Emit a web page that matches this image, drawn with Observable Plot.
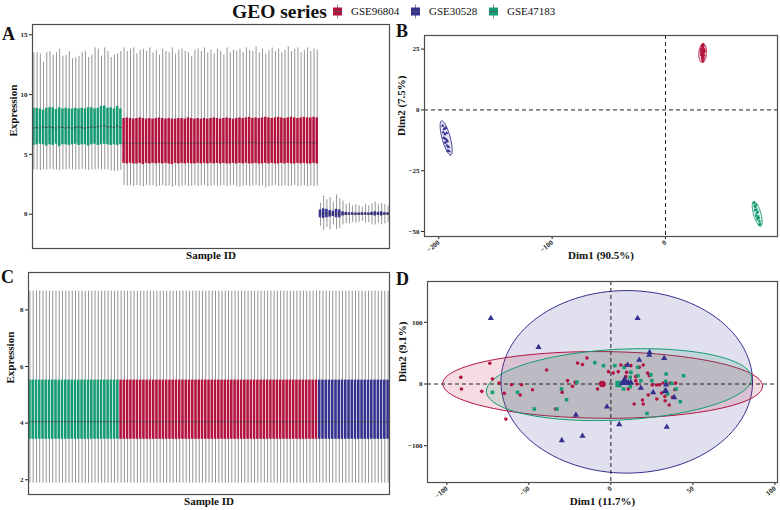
<!DOCTYPE html>
<html>
<head>
<meta charset="utf-8">
<script src="https://cdn.jsdelivr.net/npm/d3@7"></script>
<script src="https://cdn.jsdelivr.net/npm/@observablehq/plot@0.6"></script>
<style>
  body { margin: 0; background: #fff; }
  #root { position: relative; width: 780px; height: 510px; overflow: hidden; background: #fff;
          font-family: "Liberation Serif", "DejaVu Serif", serif; color: #111; }
  .panel { position: absolute; z-index: 1; }
  .letter { position: absolute; font-weight: bold; font-size: 18px; line-height: 1; z-index: 5; }
  .title { position: absolute; left: 232px; top: 2px; font-size: 19.5px; font-weight: bold; line-height: 20px; z-index: 5; }
  .leg { position: absolute; top: 4px; font-size: 11px; line-height: 1; display: flex; align-items: center; gap: 8px; z-index: 5; }
  .leg svg { display: block; }
</style>
</head>
<body>
<div id="root">
  <div class="panel" id="pA" style="left:0px;top:18px"></div>
  <div class="panel" id="pB" style="left:392px;top:18px"></div>
  <div class="panel" id="pC" style="left:0px;top:265px"></div>
  <div class="panel" id="pD" style="left:392px;top:268px"></div>
  <div class="title">GEO series</div>
  <div id="legend"></div>
  <div class="letter" style="left:2px;top:25px">A</div>
  <div class="letter" style="left:396px;top:22px">B</div>
  <div class="letter" style="left:1px;top:268px">C</div>
  <div class="letter" style="left:396px;top:270px">D</div>
</div>
<script>
// ---------------- series / colours ----------------
const seriesNames = ["GSE96804", "GSE30528", "GSE47183"];
const seriesColors = ["#B5133F", "#35318F", "#169C74"];

// ---------------- Panel A: per-sample box statistics ----------------
const greenUpper = [13.5,13.5,13.4,12.7,13.5,13.6,13.3,13.5,13.8,13.2,13.3,13.6,13.0,13.1,13.2,13.5,13.6,13.1,13.3,13.9,13.8,13.2,13.9,13.6,13.1,13.3,13.4,13.6];
const greenQ3    = [8.85,8.85,8.8,8.7,8.85,8.9,8.9,8.75,8.9,8.8,8.85,8.8,8.8,8.85,8.8,8.85,8.8,8.9,8.9,8.8,8.85,9.0,9.05,8.85,8.9,8.8,9.0,8.8];
const greenMed   = [7.2,7.25,7.2,7.3,7.25,7.3,7.25,7.2,7.3,7.25,7.2,7.25,7.2,7.25,7.3,7.25,7.2,7.25,7.3,7.25,7.3,7.35,7.4,7.3,7.3,7.25,7.35,7.25];
const greenQ1    = [5.75,5.8,5.85,5.8,5.7,5.8,5.75,5.85,5.65,5.8,5.8,5.75,5.8,5.85,5.75,5.8,5.8,5.7,5.8,5.85,5.75,5.8,5.85,5.8,5.75,5.8,5.75,5.8];
const greenLower = [3.7,3.7,3.65,3.7,3.7,3.75,3.7,3.7,3.65,3.7,3.7,3.75,3.7,3.7,3.7,3.75,3.7,3.65,3.7,3.7,3.75,3.7,3.7,3.7,3.6,3.55,3.6,3.65];

const redUpper = [13.9,13.6,13.8,13.9,13.4,13.7,13.8,13.6,13.9,13.5,
  13.7,13.3,13.8,13.6,13.5,13.9,13.4,13.7,13.8,13.6,
  13.5,13.2,13.7,13.8,13.6,13.9,13.5,13.7,13.4,13.8,
  13.6,13.3,13.9,13.5,13.7,13.6,13.8,13.5,13.9,13.7,
  13.6,14.0,13.5,13.8,13.4,13.7,13.9,13.6,13.8,13.5,
  13.7,14.0,13.6,13.8,13.9,13.5,13.7,13.9,13.6,13.8,13.7];
const redQ3 = [8.0,8.05,8.0,7.95,8.0,8.05,8.0,7.95,8.0,7.95,
  8.0,8.05,8.0,7.95,8.0,7.95,7.95,8.0,8.0,7.95,
  8.05,8.0,7.95,8.0,7.95,8.0,7.95,8.0,8.05,8.0,
  7.95,8.0,8.05,8.0,7.95,8.0,8.05,8.0,8.05,8.1,
  8.0,8.05,8.0,8.05,8.1,8.05,8.0,8.05,8.1,8.05,
  8.0,8.05,8.1,8.05,8.0,8.05,8.1,8.05,8.05,8.1,8.05];
const redMed = [5.95,5.95,5.9,5.95,5.95,5.9,5.95,5.95,5.9,5.95,
  5.95,5.9,5.95,5.95,5.95,5.9,5.95,5.95,5.95,5.9,
  5.95,5.95,5.95,5.9,5.95,5.95,5.95,5.95,5.9,5.95,
  5.95,5.95,6.0,5.95,5.95,5.95,6.0,5.95,5.95,6.0,
  5.95,6.0,5.95,5.95,6.0,5.95,6.0,5.95,6.0,5.95,
  6.0,5.95,6.0,6.0,5.95,6.0,5.95,6.0,6.0,5.95,6.0];
const redQ1 = [4.25,4.2,4.25,4.2,4.2,4.25,4.15,4.25,4.2,4.25,
  4.2,4.25,4.2,4.25,4.2,4.15,4.25,4.2,4.25,4.2,
  4.25,4.2,4.2,4.25,4.2,4.25,4.2,4.25,4.2,4.25,
  4.2,4.25,4.2,4.2,4.25,4.2,4.25,4.2,4.25,4.2,
  4.2,4.25,4.2,4.2,4.25,4.2,4.25,4.2,4.2,4.25,
  4.2,4.25,4.2,4.2,4.25,4.2,4.25,4.2,4.2,4.25,4.2];
const redLower = [2.4,2.35,2.4,2.3,2.4,2.35,2.3,2.4,2.35,2.4,
  2.3,2.35,2.4,2.3,2.35,2.25,2.4,2.3,2.35,2.4,
  2.3,2.35,2.4,2.3,2.35,2.4,2.3,2.35,2.4,2.3,
  2.35,2.4,2.3,2.35,2.4,2.3,2.25,2.35,2.4,2.3,
  2.35,2.4,2.3,2.35,2.2,2.3,2.35,2.4,2.3,2.35,
  2.4,2.3,2.35,2.4,2.3,2.35,2.4,2.3,2.35,2.3,2.35];

const blueUpper = [0.9,1.5,1.2,1.4,1.0,1.6,1.3,1.1,0.8,0.9,0.7,0.8,0.7,0.6,0.8,0.7,0.9,1.0,0.8,0.9,0.8,0.7];
const blueQ3    = [0.35,0.45,0.4,0.3,0.25,0.4,0.35,0.2,0.15,0.12,0.12,0.1,0.1,0.12,0.12,0.1,0.15,0.2,0.15,0.2,0.12,0.12];
const blueMed   = [0.05,0.1,0.05,0.0,0.0,0.05,0.05,0.0,0.0,0.0,0.0,0.0,0.0,0.0,0.0,0.0,0.0,0.02,0.0,0.02,0.0,0.0];
const blueQ1    = [-0.3,-0.35,-0.3,-0.25,-0.2,-0.3,-0.3,-0.15,-0.1,-0.08,-0.08,-0.08,-0.1,-0.08,-0.08,-0.08,-0.1,-0.15,-0.1,-0.15,-0.08,-0.08];
const blueLower = [-1.0,-1.35,-1.1,-1.3,-0.9,-1.3,-1.2,-0.9,-0.8,-0.8,-0.7,-0.75,-0.7,-0.6,-0.75,-0.7,-0.9,-0.9,-0.75,-0.9,-0.8,-0.7];

// ---------------- Panel C: normalized box statistics (identical per sample) ----------------
const normLower = 1.88, normQ1 = 3.43, normMed = 4.05, normQ3 = 5.52, normUpper = 8.66;

// ---------------- Panel B: PCA before correction ----------------
const pcaB_GSE96804 = [[32.1,26.5],[33.4,26.2],[32.8,25.8],[31.6,25.1],[33.9,25.0],[32.5,24.6],[33.1,24.2],[31.2,24.0],[34.2,23.8],[32.0,23.5],[33.5,23.2],[32.7,22.9],[31.5,22.6],[34.0,22.4],[32.9,22.0],[32.2,21.5],[33.6,21.2],[32.5,20.6],[33.0,20.0],[31.8,23.0],[34.5,24.4],[33.3,27.0]];
const pcaB_GSE47183 = [[78.0,-38.2],[78.6,-39.5],[79.4,-40.0],[79.0,-41.2],[80.3,-41.0],[80.6,-42.3],[81.4,-42.0],[80.0,-43.4],[81.8,-43.8],[82.3,-44.5],[81.2,-45.0],[82.9,-45.8],[83.4,-46.9],[82.6,-47.2],[79.8,-39.0],[81.0,-44.2]];
const pcaB_GSE30528 = [[-196.5,-6.5],[-195.2,-7.8],[-194.0,-7.4],[-196.0,-9.2],[-194.6,-10.0],[-193.0,-9.5],[-195.5,-11.5],[-193.8,-12.0],[-192.4,-12.8],[-194.5,-13.5],[-192.8,-14.6],[-191.5,-15.2],[-192.0,-16.8],[-190.8,-17.0],[-193.2,-13.0]];
// ellipse: centre + two conjugate semi-axis vectors (data units)
const ellB = [
  {group:"GSE96804", cx:32.8, cy:23.3, ax:0.44, ay:3.8, bx:3.4, by:0},
  {group:"GSE47183", cx:80.9, cy:-42.7, ax:3.1, ay:-5.1, bx:3.1, by:0.4},
  {group:"GSE30528", cx:-193.5, cy:-11.5, ax:4.0, ay:-7.0, bx:3.5, by:0.4}
];

// ---------------- Panel D: PCA after correction ----------------
const pcaD_GSE96804 = [[-91.5,10.8],[-91.1,-8.1],[-78.7,-11.9],[-73.8,33.5],[-72.2,8.1],[-68.1,1.6],[-64,-56.8],[-65,-15.1],[-60.6,-1.1],[-54.5,-1.1],
  [-55.3,-17.8],[-47.8,-9.2],[-39.2,22.7],[-33.7,-40.5],[-29.7,-13.5],[-26.4,5.4],[-23.4,-3.8],[-21.7,2.7],[-20.3,34.1],[-17.3,31.4],
  [-14.6,42.2],[-6.1,1.5],[-4.5,-1.5],[-8.1,-8.1],[-1.4,20],[1.4,17.8],[4.5,20],[6.1,30.8],[9.1,29.7],[12.2,29.7],
  [9.6,18.9],[9.1,11.9],[15.2,11.9],[17.3,27],[19.7,30.8],[22.4,17.8],[23.4,13.5],[15.2,5.4],[15.9,0],[10.6,-8.1],
  [14.2,-32.4],[19.7,-32.4],[22.8,-17.8],[19.3,-25.9],[28,-24.3],[30.9,-14.6],[32.9,-20],[32.1,1.6],[29.7,-1.1],[36.2,1.6],
  [37.6,-21.6],[33.1,-27],[35.6,-34.1],[39.6,1.6],[39,-9.2],[38.2,-21.6],[27.8,-1.6],[25.2,-1.6],[-5.5,0.5]];
const pcaD_GSE47183 = [[-72.2,-13.5],[-56.9,-13.5],[-46.7,-40.5],[-32.9,-40.5],[-30.1,-8.1],[-27,-25.4],[-20.7,3.2],[-9.8,34.6],[-4.5,29.7],[2.4,29.7],
  [8.1,27],[12.2,18.9],[16.3,27],[16.5,13.5],[11.8,10.8],[18.3,5.4],[7.7,-8.1],[11.8,-4.3],[24.4,15.1],[25,5.4],
  [33.7,16.2],[33.5,4.3],[37,1.1],[39.8,-8.1],[34.6,-16.2],[42.3,-28.6],[44.3,13.5],[22,-47.6]];
const pcaD_GSE30528 = [[-73.2,106.5],[16.3,106.5],[-44.1,59.5],[23.6,51.4],[23.4,47],[17.3,38.9],[32.5,41.6],[10.2,30.8],[12.2,2.7],[18.3,-6.5],
  [25.8,-13.5],[32.9,-11.9],[33.7,-1],[38.6,-21.6],[-21.3,-50.3],[-2.4,-36.8],[5.1,-65.4],[34.1,-69.7],[-29.9,-91.4],[-17.3,-84.3],
  [10.6,2.7],[33.5,-10.8]];
const meanD = [{group:"GSE96804", x:-5.2, y:0}, {group:"GSE47183", x:4.7, y:0}, {group:"GSE30528", x:8.4, y:3.5}];
const ellD = [
  {group:"GSE30528", cx:9.7, cy:3.5, ax:76.7, ay:0, bx:0, by:147.8},
  {group:"GSE96804", cx:-5, cy:-1.5, ax:97.5, ay:-2, bx:0, by:54},
  {group:"GSE47183", cx:5, cy:-1, ax:80.5, ay:16, bx:-8, by:56}
];

// ---------------- helpers ----------------
const colorOf = g => seriesColors[seriesNames.indexOf(g)];
const symbolOf = {GSE96804:"circle", GSE30528:"triangle", GSE47183:"square"};
const font = "'Liberation Serif', 'DejaVu Serif', serif";
const baseStyle = {fontFamily: font, fontSize: "7px", fontWeight: "bold", color: "#222", background: "white", overflow: "visible"};

function rowsFor(group, prefix, up, q3, med, q1, lo) {
  return up.map((u, i) => ({id: prefix + (i + 1), group, upper: u, q3: q3[i], median: med[i], q1: q1[i], lower: lo[i]}));
}
const rowsA = [
  ...rowsFor("GSE47183", "G", greenUpper, greenQ3, greenMed, greenQ1, greenLower),
  ...rowsFor("GSE96804", "R", redUpper, redQ3, redMed, redQ1, redLower),
  ...rowsFor("GSE30528", "B", blueUpper, blueQ3, blueMed, blueQ1, blueLower)
];
const rowsC = rowsA.map(d => ({id: d.id, group: d.group, upper: normUpper, q3: normQ3, median: normMed, q1: normQ1, lower: normLower}));

function ellipsePoints(e) {
  const n = 120;
  return d3.range(n + 1).map(i => {
    const t = 2 * Math.PI * i / n;
    return {x: e.cx + Math.cos(t) * e.ax + Math.sin(t) * e.bx,
            y: e.cy + Math.cos(t) * e.ay + Math.sin(t) * e.by};
  });
}
const toPts = (arr, group) => arr.map(([x, y]) => ({x, y, group}));

function boxPlot(rows, o) {
  return Plot.plot({
    width: o.width, height: o.height,
    marginLeft: o.ml, marginRight: o.mr, marginTop: o.mt, marginBottom: o.mb,
    style: baseStyle,
    x: {type: "band", domain: rows.map(d => d.id), paddingInner: 0.22, paddingOuter: 0.05, round: false, axis: null},
    y: {domain: o.ydomain, ticks: o.yticks, tickSize: 3, tickPadding: 2, label: null},
    color: {domain: seriesNames, range: seriesColors},
    marks: [
      Plot.ruleX(rows, {x: "id", y1: "lower", y2: "upper", stroke: "#7a7a7a", strokeWidth: 0.8}),
      Plot.barY(rows, {x: "id", y1: "q1", y2: "q3", fill: "group"}),
      Plot.tickY(rows, {x: "id", y: "median", stroke: "#3a3a3a", strokeWidth: 0.8}),
      Plot.frame({stroke: "#4d4d4d", strokeWidth: 1.2}),
      Plot.text(["Sample ID"], {frameAnchor: "bottom", dy: o.xlabDy, fontSize: 11, fontWeight: "bold", fill: "#111"}),
      Plot.text(["Expression"], {frameAnchor: "left", dx: o.ylabDx, rotate: -90, fontSize: 11, fontWeight: "bold", fill: "#111"})
    ]
  });
}

function pcaPlot(o) {
  const ellMarks = o.ellipses.map(e => Plot.line(ellipsePoints(e), {
    x: "x", y: "y", stroke: colorOf(e.group), strokeWidth: 1,
    fill: colorOf(e.group), fillOpacity: o.fillOpacity, curve: "linear"
  }));
  const dotMarks = o.points.map(p => Plot.dot(p.data, {
    x: "x", y: "y", fill: colorOf(p.group), symbol: () => symbolOf[p.group], r: o.r(p.group), stroke: "none"
  }));
  const extra = o.means ? o.means.map(m => Plot.dot([m], {x: "x", y: "y", fill: colorOf(m.group), symbol: () => symbolOf[m.group], r: o.r(m.group) * 1.8, stroke: "none"})) : [];
  return Plot.plot({
    width: o.width, height: o.height,
    marginLeft: o.ml, marginRight: o.mr, marginTop: o.mt, marginBottom: o.mb,
    style: baseStyle,
    x: {domain: o.xdomain, ticks: o.xticks, tickSize: 3, tickPadding: 2, tickRotate: -40, label: null},
    y: {domain: o.ydomain, ticks: o.yticks, tickSize: 3, tickPadding: 2, label: null},
    symbol: {type: "identity"},
    marks: [
      ...ellMarks,
      Plot.ruleX([0], {stroke: "#222", strokeWidth: 1, strokeDasharray: "4,3"}),
      Plot.ruleY([0], {stroke: "#222", strokeWidth: 1, strokeDasharray: "4,3"}),
      ...dotMarks,
      ...extra,
      Plot.frame({stroke: "#4d4d4d", strokeWidth: 1.2}),
      Plot.text([o.xlab], {frameAnchor: "bottom", dy: o.xlabDy, fontSize: 11, fontWeight: "bold", fill: "#111"}),
      Plot.text([o.ylab], {frameAnchor: "left", dx: o.ylabDx, rotate: -90, fontSize: 11, fontWeight: "bold", fill: "#111"})
    ]
  });
}

// ---------------- legend ----------------
const legend = document.getElementById("legend");
const legendX = [332, 410, 488];
seriesNames.forEach((name, i) => {
  const div = document.createElement("div");
  div.className = "leg";
  div.style.left = legendX[i] + "px";
  div.innerHTML = `<svg width="11" height="15" viewBox="0 0 11 15">
      <line x1="5.5" x2="5.5" y1="0.5" y2="14.5" stroke="#888" stroke-width="1"/>
      <rect x="1" y="3.5" width="9" height="8" fill="${seriesColors[i]}"/>
      <line x1="1" x2="10" y1="7.5" y2="7.5" stroke="#555" stroke-width="0.8"/>
    </svg><span>${name}</span>`;
  legend.appendChild(div);
});

// ---------------- panels ----------------
document.getElementById("pA").appendChild(boxPlot(rowsA, {
  width: 392, height: 250, ml: 32, mr: 3, mt: 6, mb: 20,
  ydomain: [-2.87, 15.86], yticks: [0, 5, 10, 15], xlabDy: 10, ylabDx: -19
}));
document.getElementById("pC").appendChild(boxPlot(rowsC, {
  width: 392, height: 245, ml: 28, mr: 3, mt: 7, mb: 16,
  ydomain: [1.48, 9.32], yticks: [2, 4, 6, 8], xlabDy: 10, ylabDx: -18
}));
const rB = g => 1.3;
document.getElementById("pB").appendChild(pcaPlot({
  width: 388, height: 250, ml: 32, mr: 3, mt: 17, mb: 32,
  xdomain: [-212.6, 98.8], ydomain: [-52.05, 30.6], xticks: [-200, -100, 0], yticks: [-50, -25, 0, 25],
  ellipses: ellB, fillOpacity: 0.12,
  points: [
    {group: "GSE96804", data: toPts(pcaB_GSE96804, "GSE96804")},
    {group: "GSE30528", data: toPts(pcaB_GSE30528, "GSE30528")},
    {group: "GSE47183", data: toPts(pcaB_GSE47183, "GSE47183")}
  ],
  r: rB, xlab: "Dim1 (90.5%)", ylab: "Dim2 (7.5%)", xlabDy: 22, ylabDx: -23
}));
const rD = g => g === "GSE96804" ? 1.8 : g === "GSE47183" ? 2.0 : 2.3;
document.getElementById("pD").appendChild(pcaPlot({
  width: 388, height: 242, ml: 35, mr: 3, mt: 13, mb: 28,
  xdomain: [-111.8, 101.6], ydomain: [-159.5, 166], xticks: [-100, -50, 0, 50, 100], yticks: [-100, 0, 100],
  ellipses: ellD, fillOpacity: 0.15,
  points: [
    {group: "GSE96804", data: toPts(pcaD_GSE96804, "GSE96804")},
    {group: "GSE47183", data: toPts(pcaD_GSE47183, "GSE47183")},
    {group: "GSE30528", data: toPts(pcaD_GSE30528, "GSE30528")}
  ],
  means: meanD,
  r: rD, xlab: "Dim1 (11.7%)", ylab: "Dim2 (9.1%)", xlabDy: 22, ylabDx: -25
}));
</script>
</body>
</html>
